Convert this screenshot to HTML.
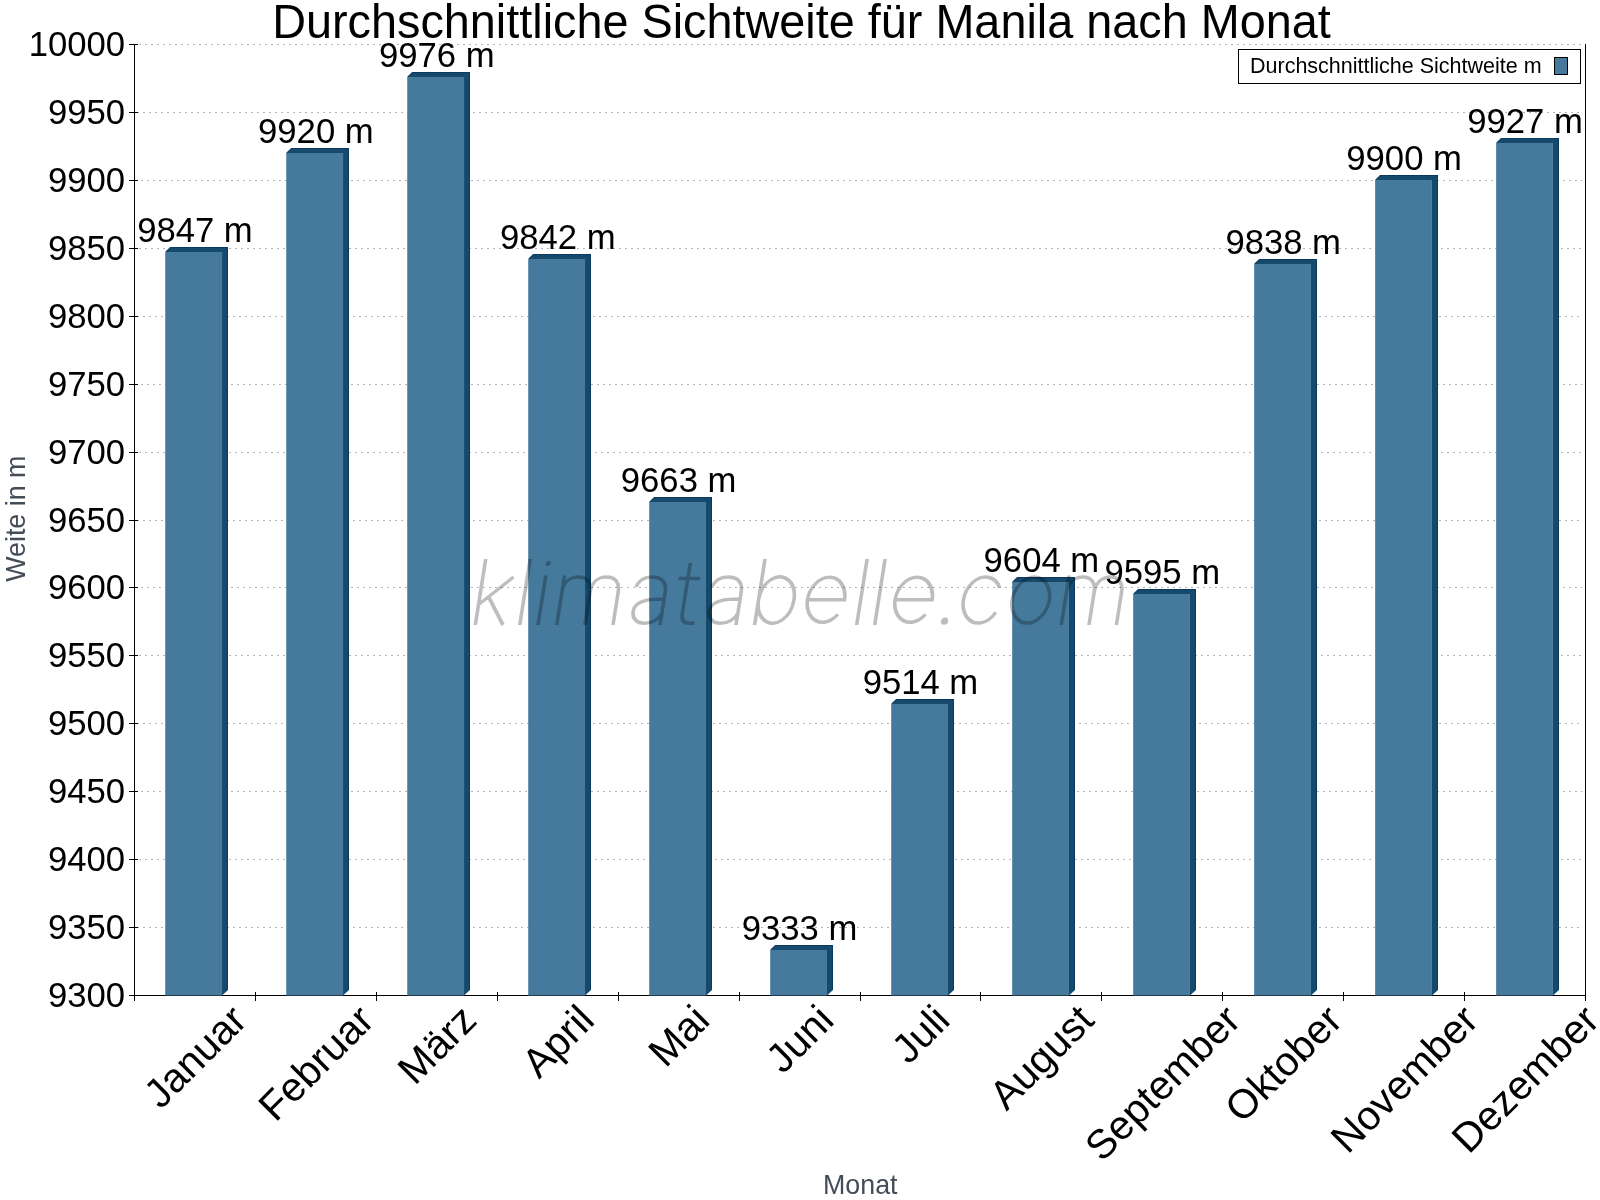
<!DOCTYPE html><html><head><meta charset="utf-8"><style>html,body{margin:0;padding:0;background:#fff;width:1600px;height:1200px;overflow:hidden}svg{display:block;will-change:transform}text{font-family:"Liberation Sans",sans-serif}</style></head><body>
<svg width="1600" height="1200" viewBox="0 0 1600 1200">
<rect x="0" y="0" width="1600" height="1200" fill="#fff"/>
<line x1="137" y1="927.5" x2="1582.5" y2="927.5" stroke="#b4b4b4" stroke-width="1" stroke-dasharray="2 4"/>
<line x1="139" y1="859.5" x2="1582.5" y2="859.5" stroke="#b4b4b4" stroke-width="1" stroke-dasharray="2 4"/>
<line x1="141" y1="791.5" x2="1582.5" y2="791.5" stroke="#b4b4b4" stroke-width="1" stroke-dasharray="2 4"/>
<line x1="137" y1="723.5" x2="1582.5" y2="723.5" stroke="#b4b4b4" stroke-width="1" stroke-dasharray="2 4"/>
<line x1="139" y1="655.5" x2="1582.5" y2="655.5" stroke="#b4b4b4" stroke-width="1" stroke-dasharray="2 4"/>
<line x1="141" y1="587.5" x2="1582.5" y2="587.5" stroke="#b4b4b4" stroke-width="1" stroke-dasharray="2 4"/>
<line x1="137" y1="520.5" x2="1582.5" y2="520.5" stroke="#b4b4b4" stroke-width="1" stroke-dasharray="2 4"/>
<line x1="139" y1="452.5" x2="1582.5" y2="452.5" stroke="#b4b4b4" stroke-width="1" stroke-dasharray="2 4"/>
<line x1="141" y1="384.5" x2="1582.5" y2="384.5" stroke="#b4b4b4" stroke-width="1" stroke-dasharray="2 4"/>
<line x1="137" y1="316.5" x2="1582.5" y2="316.5" stroke="#b4b4b4" stroke-width="1" stroke-dasharray="2 4"/>
<line x1="139" y1="248.5" x2="1582.5" y2="248.5" stroke="#b4b4b4" stroke-width="1" stroke-dasharray="2 4"/>
<line x1="141" y1="180.5" x2="1582.5" y2="180.5" stroke="#b4b4b4" stroke-width="1" stroke-dasharray="2 4"/>
<line x1="137" y1="112.5" x2="1582.5" y2="112.5" stroke="#b4b4b4" stroke-width="1" stroke-dasharray="2 4"/>
<line x1="139" y1="44.5" x2="1582.5" y2="44.5" stroke="#b4b4b4" stroke-width="1" stroke-dasharray="2 4"/>
<line x1="134.5" y1="44" x2="134.5" y2="1001" stroke="#000" stroke-width="1"/>
<line x1="1585.5" y1="44" x2="1585.5" y2="1001" stroke="#000" stroke-width="1"/>
<line x1="134" y1="995.5" x2="1586" y2="995.5" stroke="#000" stroke-width="1"/>
<polygon points="165.25,252 170.25,247 228,247 228,990.00 222.05,995.50 222.05,252" fill="#164a6c"/>
<polyline points="165.65,252 170.45,247.5 227.5,247.5 227.5,989.50" fill="none" stroke="#0b3a5f" stroke-width="1"/>
<rect x="165.25" y="252" width="56.8" height="743.50" fill="#467a9d"/>
<polygon points="286.24,153 291.24,148 349,148 349,990.00 343.04,995.50 343.04,153" fill="#164a6c"/>
<polyline points="286.64,153 291.44,148.5 348.5,148.5 348.5,989.50" fill="none" stroke="#0b3a5f" stroke-width="1"/>
<rect x="286.24" y="153" width="56.8" height="842.50" fill="#467a9d"/>
<polygon points="407.23,77 412.23,72 470,72 470,990.00 464.03,995.50 464.03,77" fill="#164a6c"/>
<polyline points="407.63,77 412.43,72.5 469.5,72.5 469.5,989.50" fill="none" stroke="#0b3a5f" stroke-width="1"/>
<rect x="407.23" y="77" width="56.8" height="918.50" fill="#467a9d"/>
<polygon points="528.22,259 533.22,254 591,254 591,990.00 585.02,995.50 585.02,259" fill="#164a6c"/>
<polyline points="528.62,259 533.42,254.5 590.5,254.5 590.5,989.50" fill="none" stroke="#0b3a5f" stroke-width="1"/>
<rect x="528.22" y="259" width="56.8" height="736.50" fill="#467a9d"/>
<polygon points="649.21,502 654.21,497 712,497 712,990.00 706.01,995.50 706.01,502" fill="#164a6c"/>
<polyline points="649.61,502 654.41,497.5 711.5,497.5 711.5,989.50" fill="none" stroke="#0b3a5f" stroke-width="1"/>
<rect x="649.21" y="502" width="56.8" height="493.50" fill="#467a9d"/>
<polygon points="770.20,950 775.20,945 833,945 833,990.00 827.00,995.50 827.00,950" fill="#164a6c"/>
<polyline points="770.60,950 775.40,945.5 832.5,945.5 832.5,989.50" fill="none" stroke="#0b3a5f" stroke-width="1"/>
<rect x="770.20" y="950" width="56.8" height="45.50" fill="#467a9d"/>
<polygon points="891.19,704 896.19,699 954,699 954,990.00 947.99,995.50 947.99,704" fill="#164a6c"/>
<polyline points="891.59,704 896.39,699.5 953.5,699.5 953.5,989.50" fill="none" stroke="#0b3a5f" stroke-width="1"/>
<rect x="891.19" y="704" width="56.8" height="291.50" fill="#467a9d"/>
<polygon points="1012.18,582 1017.18,577 1075,577 1075,990.00 1068.98,995.50 1068.98,582" fill="#164a6c"/>
<polyline points="1012.58,582 1017.38,577.5 1074.5,577.5 1074.5,989.50" fill="none" stroke="#0b3a5f" stroke-width="1"/>
<rect x="1012.18" y="582" width="56.8" height="413.50" fill="#467a9d"/>
<polygon points="1133.17,594 1138.17,589 1196,589 1196,990.00 1189.97,995.50 1189.97,594" fill="#164a6c"/>
<polyline points="1133.57,594 1138.37,589.5 1195.5,589.5 1195.5,989.50" fill="none" stroke="#0b3a5f" stroke-width="1"/>
<rect x="1133.17" y="594" width="56.8" height="401.50" fill="#467a9d"/>
<polygon points="1254.16,264 1259.16,259 1317,259 1317,990.00 1310.96,995.50 1310.96,264" fill="#164a6c"/>
<polyline points="1254.56,264 1259.36,259.5 1316.5,259.5 1316.5,989.50" fill="none" stroke="#0b3a5f" stroke-width="1"/>
<rect x="1254.16" y="264" width="56.8" height="731.50" fill="#467a9d"/>
<polygon points="1375.15,180 1380.15,175 1438,175 1438,990.00 1431.95,995.50 1431.95,180" fill="#164a6c"/>
<polyline points="1375.55,180 1380.35,175.5 1437.5,175.5 1437.5,989.50" fill="none" stroke="#0b3a5f" stroke-width="1"/>
<rect x="1375.15" y="180" width="56.8" height="815.50" fill="#467a9d"/>
<polygon points="1496.14,143 1501.14,138 1559,138 1559,990.00 1552.94,995.50 1552.94,143" fill="#164a6c"/>
<polyline points="1496.54,143 1501.34,138.5 1558.5,138.5 1558.5,989.50" fill="none" stroke="#0b3a5f" stroke-width="1"/>
<rect x="1496.14" y="143" width="56.8" height="852.50" fill="#467a9d"/>
<line x1="129" y1="995.5" x2="138" y2="995.5" stroke="#000" stroke-width="1"/>
<text x="125" y="1007.3" font-size="34.67" text-anchor="end" fill="#000" transform="translate(0 1007.30) scale(1 1.0) translate(0 -1007.30)">9300</text>
<line x1="129" y1="927.5" x2="138" y2="927.5" stroke="#000" stroke-width="1"/>
<text x="125" y="939.3" font-size="34.67" text-anchor="end" fill="#000" transform="translate(0 939.30) scale(1 1.0) translate(0 -939.30)">9350</text>
<line x1="129" y1="859.5" x2="138" y2="859.5" stroke="#000" stroke-width="1"/>
<text x="125" y="871.3" font-size="34.67" text-anchor="end" fill="#000" transform="translate(0 871.30) scale(1 1.0) translate(0 -871.30)">9400</text>
<line x1="129" y1="791.5" x2="138" y2="791.5" stroke="#000" stroke-width="1"/>
<text x="125" y="803.3" font-size="34.67" text-anchor="end" fill="#000" transform="translate(0 803.30) scale(1 1.0) translate(0 -803.30)">9450</text>
<line x1="129" y1="723.5" x2="138" y2="723.5" stroke="#000" stroke-width="1"/>
<text x="125" y="735.3" font-size="34.67" text-anchor="end" fill="#000" transform="translate(0 735.30) scale(1 1.0) translate(0 -735.30)">9500</text>
<line x1="129" y1="655.5" x2="138" y2="655.5" stroke="#000" stroke-width="1"/>
<text x="125" y="667.3" font-size="34.67" text-anchor="end" fill="#000" transform="translate(0 667.30) scale(1 1.0) translate(0 -667.30)">9550</text>
<line x1="129" y1="587.5" x2="138" y2="587.5" stroke="#000" stroke-width="1"/>
<text x="125" y="599.3" font-size="34.67" text-anchor="end" fill="#000" transform="translate(0 599.30) scale(1 1.0) translate(0 -599.30)">9600</text>
<line x1="129" y1="520.5" x2="138" y2="520.5" stroke="#000" stroke-width="1"/>
<text x="125" y="532.3" font-size="34.67" text-anchor="end" fill="#000" transform="translate(0 532.30) scale(1 1.0) translate(0 -532.30)">9650</text>
<line x1="129" y1="452.5" x2="138" y2="452.5" stroke="#000" stroke-width="1"/>
<text x="125" y="464.3" font-size="34.67" text-anchor="end" fill="#000" transform="translate(0 464.30) scale(1 1.0) translate(0 -464.30)">9700</text>
<line x1="129" y1="384.5" x2="138" y2="384.5" stroke="#000" stroke-width="1"/>
<text x="125" y="396.3" font-size="34.67" text-anchor="end" fill="#000" transform="translate(0 396.30) scale(1 1.0) translate(0 -396.30)">9750</text>
<line x1="129" y1="316.5" x2="138" y2="316.5" stroke="#000" stroke-width="1"/>
<text x="125" y="328.3" font-size="34.67" text-anchor="end" fill="#000" transform="translate(0 328.30) scale(1 1.0) translate(0 -328.30)">9800</text>
<line x1="129" y1="248.5" x2="138" y2="248.5" stroke="#000" stroke-width="1"/>
<text x="125" y="260.3" font-size="34.67" text-anchor="end" fill="#000" transform="translate(0 260.30) scale(1 1.0) translate(0 -260.30)">9850</text>
<line x1="129" y1="180.5" x2="138" y2="180.5" stroke="#000" stroke-width="1"/>
<text x="125" y="192.3" font-size="34.67" text-anchor="end" fill="#000" transform="translate(0 192.30) scale(1 1.0) translate(0 -192.30)">9900</text>
<line x1="129" y1="112.5" x2="138" y2="112.5" stroke="#000" stroke-width="1"/>
<text x="125" y="124.3" font-size="34.67" text-anchor="end" fill="#000" transform="translate(0 124.30) scale(1 1.0) translate(0 -124.30)">9950</text>
<line x1="129" y1="44.5" x2="138" y2="44.5" stroke="#000" stroke-width="1"/>
<text x="125" y="56.3" font-size="34.67" text-anchor="end" fill="#000" transform="translate(0 56.30) scale(1 1.0) translate(0 -56.30)">10000</text>
<line x1="134.5" y1="992" x2="134.5" y2="1001" stroke="#000" stroke-width="1"/>
<line x1="255.5" y1="992" x2="255.5" y2="1001" stroke="#000" stroke-width="1"/>
<line x1="376.5" y1="992" x2="376.5" y2="1001" stroke="#000" stroke-width="1"/>
<line x1="497.5" y1="992" x2="497.5" y2="1001" stroke="#000" stroke-width="1"/>
<line x1="618.5" y1="992" x2="618.5" y2="1001" stroke="#000" stroke-width="1"/>
<line x1="739.5" y1="992" x2="739.5" y2="1001" stroke="#000" stroke-width="1"/>
<line x1="860.5" y1="992" x2="860.5" y2="1001" stroke="#000" stroke-width="1"/>
<line x1="980.5" y1="992" x2="980.5" y2="1001" stroke="#000" stroke-width="1"/>
<line x1="1101.5" y1="992" x2="1101.5" y2="1001" stroke="#000" stroke-width="1"/>
<line x1="1222.5" y1="992" x2="1222.5" y2="1001" stroke="#000" stroke-width="1"/>
<line x1="1343.5" y1="992" x2="1343.5" y2="1001" stroke="#000" stroke-width="1"/>
<line x1="1464.5" y1="992" x2="1464.5" y2="1001" stroke="#000" stroke-width="1"/>
<line x1="1585.5" y1="992" x2="1585.5" y2="1001" stroke="#000" stroke-width="1"/>
<text x="194.96" y="242.20" font-size="34.67" text-anchor="middle" fill="#000" transform="translate(0 242.20) scale(1 1.02) translate(0 -242.20)">9847 m</text>
<text x="315.88" y="143.20" font-size="34.67" text-anchor="middle" fill="#000" transform="translate(0 143.20) scale(1 1.02) translate(0 -143.20)">9920 m</text>
<text x="436.79" y="67.20" font-size="34.67" text-anchor="middle" fill="#000" transform="translate(0 67.20) scale(1 1.02) translate(0 -67.20)">9976 m</text>
<text x="557.71" y="249.20" font-size="34.67" text-anchor="middle" fill="#000" transform="translate(0 249.20) scale(1 1.02) translate(0 -249.20)">9842 m</text>
<text x="678.63" y="492.20" font-size="34.67" text-anchor="middle" fill="#000" transform="translate(0 492.20) scale(1 1.02) translate(0 -492.20)">9663 m</text>
<text x="799.54" y="940.20" font-size="34.67" text-anchor="middle" fill="#000" transform="translate(0 940.20) scale(1 1.02) translate(0 -940.20)">9333 m</text>
<text x="920.46" y="694.20" font-size="34.67" text-anchor="middle" fill="#000" transform="translate(0 694.20) scale(1 1.02) translate(0 -694.20)">9514 m</text>
<text x="1041.38" y="572.20" font-size="34.67" text-anchor="middle" fill="#000" transform="translate(0 572.20) scale(1 1.02) translate(0 -572.20)">9604 m</text>
<text x="1162.29" y="584.20" font-size="34.67" text-anchor="middle" fill="#000" transform="translate(0 584.20) scale(1 1.02) translate(0 -584.20)">9595 m</text>
<text x="1283.21" y="254.20" font-size="34.67" text-anchor="middle" fill="#000" transform="translate(0 254.20) scale(1 1.02) translate(0 -254.20)">9838 m</text>
<text x="1404.12" y="170.20" font-size="34.67" text-anchor="middle" fill="#000" transform="translate(0 170.20) scale(1 1.02) translate(0 -170.20)">9900 m</text>
<text x="1525.04" y="133.20" font-size="34.67" text-anchor="middle" fill="#000" transform="translate(0 133.20) scale(1 1.02) translate(0 -133.20)">9927 m</text>
<text x="204.92" y="1066.29" font-size="40.67" text-anchor="middle" fill="#000" transform="rotate(-45 204.92 1066.29)">Januar</text>
<text x="325.84" y="1072.67" font-size="40.67" text-anchor="middle" fill="#000" transform="rotate(-45 325.84 1072.67)">Februar</text>
<text x="446.76" y="1054.28" font-size="40.67" text-anchor="middle" fill="#000" transform="rotate(-45 446.76 1054.28)">März</text>
<text x="567.67" y="1051.09" font-size="40.67" text-anchor="middle" fill="#000" transform="rotate(-45 567.67 1051.09)">April</text>
<text x="688.59" y="1045.50" font-size="40.67" text-anchor="middle" fill="#000" transform="rotate(-45 688.59 1045.50)">Mai</text>
<text x="809.51" y="1048.70" font-size="40.67" text-anchor="middle" fill="#000" transform="rotate(-45 809.51 1048.70)">Juni</text>
<text x="930.42" y="1043.90" font-size="40.67" text-anchor="middle" fill="#000" transform="rotate(-45 930.42 1043.90)">Juli</text>
<text x="1051.34" y="1067.09" font-size="40.67" text-anchor="middle" fill="#000" transform="rotate(-45 1051.34 1067.09)">August</text>
<text x="1172.26" y="1092.66" font-size="40.67" text-anchor="middle" fill="#000" transform="rotate(-45 1172.26 1092.66)">September</text>
<text x="1293.17" y="1073.47" font-size="40.67" text-anchor="middle" fill="#000" transform="rotate(-45 1293.17 1073.47)">Oktober</text>
<text x="1414.09" y="1088.65" font-size="40.67" text-anchor="middle" fill="#000" transform="rotate(-45 1414.09 1088.65)">November</text>
<text x="1535.01" y="1088.65" font-size="40.67" text-anchor="middle" fill="#000" transform="rotate(-45 1535.01 1088.65)">Dezember</text>
<text x="801.5" y="38" font-size="46.8" text-anchor="middle" fill="#000" transform="translate(0 38) scale(1 1.02) translate(0 -38)">Durchschnittliche Sichtweite für Manila nach Monat</text>
<text x="860.3" y="1194.2" font-size="26.8" text-anchor="middle" fill="#434c57" transform="translate(0 1194.2) scale(1 1.05) translate(0 -1194.2)">Monat</text>
<text x="25.2" y="518.7" font-size="26.8" text-anchor="middle" fill="#434c57" transform="rotate(-90 25.2 518.7) translate(0 518.7) scale(1 1.05) translate(0 -518.7)">Weite in m</text>
<rect x="1238.5" y="49.5" width="342" height="34" fill="#fff" stroke="#000" stroke-width="1"/>
<text x="1250" y="73" font-size="21.5" fill="#000">Durchschnittliche Sichtweite m</text>
<rect x="1554.5" y="57.5" width="13" height="17" fill="#467a9d" stroke="#000" stroke-width="1"/>
<g opacity="0.255" transform="matrix(1,0,-0.158,1,98.750,0)">
<path d="M475.3,625 V559 M476,604 L506,577 M483.6,596 L503,625 M519.75,625 V559 M538,625 V575.5 M556.75,625 V575.5 M556.75,592 C556.75,583 561.75,577 570.825,577 C579.9,577 584.9,583 584.9,592 V625 M584.9,592 C584.9,583 589.9,577 598.95,577 C608,577 613,583 613,592 V625 M630,587 C632,580 637,577 644,577 C654,577 660,582 660,592 V625 M660,599 C650,599 631,599 631,611 C631,619 637,623.3 644,623.3 C652,623.3 658,619 660,613 M680.5,563 V614 C680.5,620.5 683.5,623.3 689.5,623.3 H694 M671.2,578.5 H692.6 M706,587 C708,580 713,577 720,577 C730,577 736,582 736,592 V625 M736,599 C726,599 707,599 707,611 C707,619 713,623.3 720,623.3 C728,623.3 734,619 736,613 M754.6,559 V625 M754.6,600 A17.7,23.2 0 1 1 754.6,600.01 M803.50,599.70 H840.50 A18.5,22.5 0 0 0 803.50,599.70 A18.5,22.5 0 0 0 836.17,614.16 M856.7,625 V559 M874.7,625 V559 M891.10,599.70 H928.10 A18.5,22.5 0 0 0 891.10,599.70 A18.5,22.5 0 0 0 923.77,614.16 M993.7,587.8 A18.5,23 0 1 0 993.7,612.2 M1026.8,577 A18.5,23 0 1 0 1026.81,577 M1061.3,625 V575.5 M1061.3,592 C1061.3,583 1066.3,577 1075.15,577 C1084,577 1089,583 1089,592 V625 M1089,592 C1089,583 1094,577 1102.7,577 C1111.4,577 1116.4,583 1116.4,592 V625" fill="none" stroke="#000" stroke-width="3.6" stroke-linecap="butt"/>
<circle cx="538.5" cy="563.5" r="2.6" fill="#000"/><circle cx="944" cy="621.2" r="3.6" fill="#000"/>
</g>
</svg></body></html>
